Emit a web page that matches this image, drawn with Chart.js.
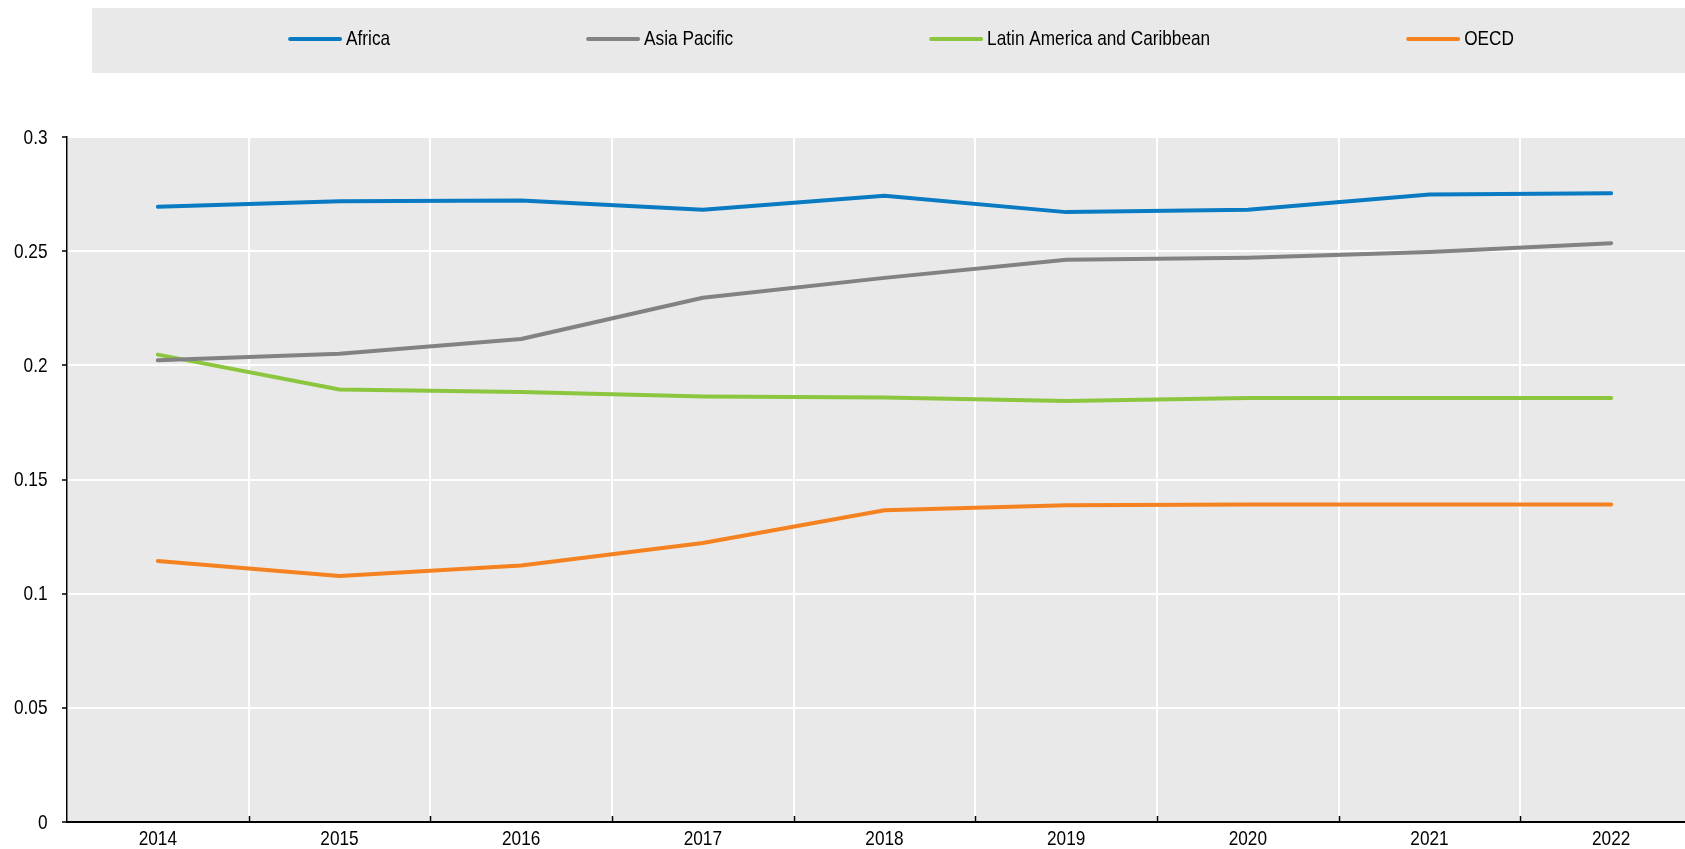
<!DOCTYPE html>
<html>
<head>
<meta charset="utf-8">
<script src="https://cdn.jsdelivr.net/npm/chart.js@4.4.3/dist/chart.umd.min.js"></script>
<style>
  html, body { margin: 0; padding: 0; background: #fff; overflow: hidden; }
  /* the plot runs a little past the right edge of the window, as in the original */
  #wrap { width: 1702px; height: 849px; position: relative; }
</style>
</head>
<body>
<div id="wrap"><canvas id="chart"></canvas></div>
<script>
// Values.
const years = ['2014', '2015', '2016', '2017', '2018', '2019', '2020', '2021', '2022'];

const africa = [0.2695, 0.2719, 0.2722, 0.2681, 0.2743, 0.2671, 0.2681, 0.2748, 0.2754];
const asiaPacific = [0.2022, 0.2051, 0.2115, 0.2296, 0.2383, 0.2462, 0.2471, 0.2496, 0.2535];
const latinAmerica = [0.2047, 0.1894, 0.1883, 0.1864, 0.1859, 0.1844, 0.1857, 0.1857, 0.1857];
const oecd = [0.1143, 0.1077, 0.1123, 0.1222, 0.1365, 0.1387, 0.1391, 0.1391, 0.1391];

const seriesNames = ['Africa', 'Asia Pacific', 'Latin America and Caribbean', 'OECD'];
const seriesColours = ['#0a7bc2', '#828282', '#8cc63f', '#f58220'];

const yTicks = [0, 0.05, 0.1, 0.15, 0.2, 0.25, 0.3];
const yTickLabels = ['0', '0.05', '0.1', '0.15', '0.2', '0.25', '0.3'];

const FONT = "'Liberation Sans', Arial, sans-serif";
const FONT_SIZE = 21;
const SQUEEZE = 0.82; // the original uses a narrow face; squeeze a regular one

// Draw text horizontally condensed.
function narrowText(ctx, text, x, y, align) {
  ctx.save();
  ctx.translate(x, y);
  ctx.scale(SQUEEZE, 1);
  ctx.textAlign = align;
  ctx.fillText(text, 0, 0);
  ctx.restore();
}

// Grey plot background behind the grid.
const plotBackground = {
  id: 'plotBackground',
  beforeDraw(chart) {
    const { ctx, chartArea: a } = chart;
    ctx.save();
    ctx.fillStyle = '#e9e9e9';
    ctx.fillRect(a.left, a.top, a.right - a.left, a.bottom - a.top);
    ctx.restore();
  }
};

// Legend drawn in a grey band across the top.
const bandLegend = {
  id: 'bandLegend',
  afterDraw(chart) {
    const { ctx } = chart;
    const lineLen = 54, textGap = 4, itemGap = 196;
    const lineY = 39, textY = 45;

    ctx.save();
    ctx.fillStyle = '#e9e9e9';
    ctx.fillRect(92, 8, chart.width - 92, 65);

    ctx.font = `${FONT_SIZE}px ${FONT}`;
    ctx.textBaseline = 'alphabetic';

    const widths = chart.data.datasets.map(ds =>
      lineLen + textGap + ctx.measureText(ds.label).width * SQUEEZE);
    const total = widths.reduce((s, w) => s + w, 0) + itemGap * (widths.length - 1);
    let x = 901 - total / 2;

    chart.data.datasets.forEach((ds, i) => {
      ctx.strokeStyle = ds.borderColor;
      ctx.lineWidth = 4;
      ctx.lineCap = 'round';
      ctx.beginPath();
      ctx.moveTo(x + 2, lineY);
      ctx.lineTo(x + lineLen - 2, lineY);
      ctx.stroke();

      ctx.fillStyle = '#000';
      narrowText(ctx, ds.label, x + lineLen + textGap, textY, 'left');
      x += widths[i] + itemGap;
    });
    ctx.restore();
  }
};

// Axis labels and the small upward tick marks at the category boundaries.
const axisLabels = {
  id: 'axisLabels',
  afterDraw(chart) {
    const { ctx, scales: { x, y }, chartArea: a } = chart;
    ctx.save();

    ctx.strokeStyle = '#000';
    ctx.lineWidth = 1.5;
    for (let i = 1; i < years.length; i++) {
      const px = Math.round((x.getPixelForTick(i) + x.getPixelForTick(i - 1)) / 2) + 0.5;
      ctx.beginPath();
      ctx.moveTo(px, a.bottom);
      ctx.lineTo(px, a.bottom - 6);
      ctx.stroke();
    }

    ctx.fillStyle = '#000';
    ctx.font = `${FONT_SIZE}px ${FONT}`;
    ctx.textBaseline = 'alphabetic';

    years.forEach((label, i) => {
      narrowText(ctx, label, x.getPixelForTick(i), a.bottom + 22.5, 'center');
    });

    yTicks.forEach((v, i) => {
      narrowText(ctx, yTickLabels[i], 47.5, y.getPixelForValue(v) + 6.5, 'right');
    });

    ctx.restore();
  }
};

const datasets = [africa, asiaPacific, latinAmerica, oecd].map((values, i) => ({
  label: seriesNames[i],
  data: values,
  borderColor: seriesColours[i],
  backgroundColor: seriesColours[i],
  borderWidth: 4,
  borderCapStyle: 'round',
  borderJoinStyle: 'round',
  pointRadius: 0,
  tension: 0,
  fill: false
}));

new Chart(document.getElementById('chart'), {
  type: 'line',
  data: { labels: years, datasets },
  plugins: [plotBackground, bandLegend, axisLabels],
  options: {
    responsive: true,
    maintainAspectRatio: false,
    animation: false,
    layout: { padding: { top: 137, right: 0, bottom: 0, left: 0 } },
    plugins: {
      legend: { display: false },
      tooltip: { enabled: false }
    },
    scales: {
      x: {
        offset: true,
        grid: {
          offset: true,
          color: '#ffffff',
          lineWidth: 2,
          drawTicks: false
        },
        border: { color: '#000', width: 2 },
        ticks: { display: false },
        afterFit(scale) { scale.height = 27; }
      },
      y: {
        min: 0,
        max: 0.3,
        grid: {
          color: '#ffffff',
          lineWidth: 2,
          drawTicks: true,
          tickLength: 5,
          tickColor: '#000',
          tickWidth: 1.5
        },
        border: { color: '#000', width: 1.5 },
        afterBuildTicks(scale) {
          scale.ticks = yTicks.map(v => ({ value: v }));
        },
        ticks: { display: false },
        afterFit(scale) { scale.width = 67; }
      }
    }
  }
});
</script>
</body>
</html>
